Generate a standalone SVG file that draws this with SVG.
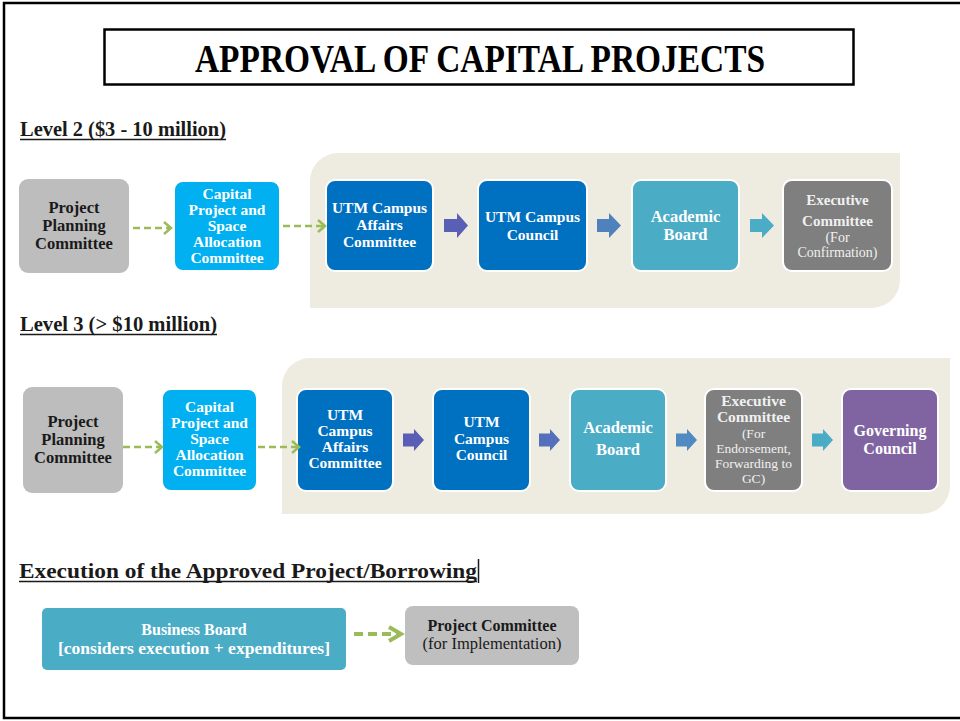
<svg xmlns="http://www.w3.org/2000/svg" width="960" height="721" viewBox="0 0 960 721">
<style>
text{font-family:"Liberation Serif","DejaVu Serif",serif;text-anchor:middle}
.b{font-weight:bold}
.w{fill:#ffffff}
.lw{fill:#f0f0f0}
.d{fill:#1a1a1a}
.h{font-weight:bold;fill:#1a1a1a;text-anchor:start}
.box{stroke:#ffffff;stroke-width:2}
.ul{stroke:#1a1a1a;stroke-width:1.5}
.dash{fill:none;stroke:#9bbb59;stroke-width:2.5;stroke-dasharray:7 4}
.head{fill:none;stroke:#9bbb59;stroke-width:2.5}
.panel{fill:#eeece1}
</style>
<rect width="960" height="721" fill="#ffffff"/>
<path d="M960,3 H4 V718 H960" fill="none" stroke="#000" stroke-width="2.5"/>

<g id="title">
<rect x="104.5" y="29.5" width="749" height="55" fill="#fff" stroke="#000" stroke-width="2.5"/>
<text x="480" y="72" class="b" font-size="40" textLength="570" lengthAdjust="spacingAndGlyphs" fill="#000">APPROVAL OF CAPITAL PROJECTS</text>
</g>

<g id="heading-level2">
<text x="20" y="136" class="h" font-size="20" textLength="206" lengthAdjust="spacingAndGlyphs">Level 2 ($3 - 10 million)</text>
<line x1="20" y1="139.5" x2="226" y2="139.5" class="ul"/>
</g>
<g id="heading-level3">
<text x="20" y="331" class="h" font-size="20" textLength="197" lengthAdjust="spacingAndGlyphs">Level 3 (&gt; $10 million)</text>
<line x1="20" y1="334.5" x2="217" y2="334.5" class="ul"/>
</g>
<g id="heading-execution">
<text x="19" y="578" class="h" font-size="21" textLength="458" lengthAdjust="spacingAndGlyphs">Execution of the Approved Project/Borrowing</text>
<line x1="19" y1="581.5" x2="477" y2="581.5" class="ul"/>
<line x1="478.5" y1="559" x2="478.5" y2="583" stroke="#1a1a1a" stroke-width="1.5"/>
</g>

<g id="panel-level2"><path class="panel" d="M310,308 V181 A28,28 0 0 1 338,153 H900 V280 A28,28 0 0 1 872,308 Z"/></g>
<g id="panel-level3"><path class="panel" d="M282,514 V386 A28,28 0 0 1 310,358 H950 V486 A28,28 0 0 1 922,514 Z"/></g>

<!-- Level 2 nodes -->
<g id="l2-project-planning">
<rect x="19" y="179" width="110" height="94" rx="9" fill="#bdbdbd"/>
<text class="b d" font-size="16.5"><tspan x="74" y="212.5">Project</tspan><tspan x="74" y="230.5">Planning</tspan><tspan x="74" y="248.5">Committee</tspan></text>
</g>
<g id="l2-capital-project">
<rect class="box" x="174" y="181" width="106" height="90" rx="9" fill="#00b0f0"/>
<text class="b w" font-size="15.5"><tspan x="227" y="199">Capital</tspan><tspan x="227" y="215">Project and</tspan><tspan x="227" y="231">Space</tspan><tspan x="227" y="247">Allocation</tspan><tspan x="227" y="263">Committee</tspan></text>
</g>
<g id="l2-utm-campus-affairs">
<rect class="box" x="326" y="180" width="107" height="91" rx="9" fill="#0070c0"/>
<text class="b w" font-size="15.5"><tspan x="379.5" y="213">UTM Campus</tspan><tspan x="379.5" y="230">Affairs</tspan><tspan x="379.5" y="247">Committee</tspan></text>
</g>
<g id="l2-utm-campus-council">
<rect class="box" x="478" y="180" width="109" height="91" rx="9" fill="#0070c0"/>
<text class="b w" font-size="15.5"><tspan x="532.5" y="222">UTM Campus</tspan><tspan x="532.5" y="239.5">Council</tspan></text>
</g>
<g id="l2-academic-board">
<rect class="box" x="632" y="180" width="107" height="91" rx="9" fill="#4bacc6"/>
<text class="b w" font-size="16.5"><tspan x="685.5" y="221.5">Academic</tspan><tspan x="685.5" y="239.5">Board</tspan></text>
</g>
<g id="l2-executive-committee">
<rect class="box" x="783" y="180" width="109" height="91" rx="9" fill="#7f7f7f"/>
<text class="lw" font-size="15"><tspan x="837.5" y="205" font-weight="bold">Executive</tspan><tspan x="837.5" y="226" font-weight="bold">Committee</tspan><tspan x="837.5" y="241.5" font-size="14">(For</tspan><tspan x="837.5" y="256.5" font-size="14">Confirmation)</tspan></text>
</g>

<!-- Level 3 nodes -->
<g id="l3-project-planning">
<rect x="23" y="387" width="100" height="106" rx="9" fill="#bdbdbd"/>
<text class="b d" font-size="16.5"><tspan x="73" y="427">Project</tspan><tspan x="73" y="445">Planning</tspan><tspan x="73" y="463">Committee</tspan></text>
</g>
<g id="l3-capital-project">
<rect class="box" x="162" y="389" width="95" height="102" rx="9" fill="#00b0f0"/>
<text class="b w" font-size="15.5"><tspan x="209.5" y="412">Capital</tspan><tspan x="209.5" y="428">Project and</tspan><tspan x="209.5" y="444">Space</tspan><tspan x="209.5" y="460">Allocation</tspan><tspan x="209.5" y="476">Committee</tspan></text>
</g>
<g id="l3-utm-campus-affairs">
<rect class="box" x="297" y="389" width="96" height="102" rx="9" fill="#0070c0"/>
<text class="b w" font-size="15.5"><tspan x="345" y="420">UTM</tspan><tspan x="345" y="436">Campus</tspan><tspan x="345" y="452">Affairs</tspan><tspan x="345" y="468">Committee</tspan></text>
</g>
<g id="l3-utm-campus-council">
<rect class="box" x="433" y="389" width="97" height="102" rx="9" fill="#0070c0"/>
<text class="b w" font-size="15.5"><tspan x="481.5" y="427">UTM</tspan><tspan x="481.5" y="443.5">Campus</tspan><tspan x="481.5" y="460">Council</tspan></text>
</g>
<g id="l3-academic-board">
<rect class="box" x="570" y="389" width="96" height="102" rx="9" fill="#4bacc6"/>
<text class="b w" font-size="16.5"><tspan x="618" y="433">Academic</tspan><tspan x="618" y="455">Board</tspan></text>
</g>
<g id="l3-executive-committee">
<rect class="box" x="705" y="389" width="97" height="102" rx="9" fill="#7f7f7f"/>
<text class="lw" font-size="15.5"><tspan x="753.5" y="406" font-weight="bold">Executive</tspan><tspan x="753.5" y="422" font-weight="bold">Committee</tspan><tspan x="753.5" y="438" font-size="13.5">(For</tspan><tspan x="753.5" y="453" font-size="13.5">Endorsement,</tspan><tspan x="753.5" y="468" font-size="13.5">Forwarding to</tspan><tspan x="753.5" y="483" font-size="13.5">GC)</tspan></text>
</g>
<g id="l3-governing-council">
<rect class="box" x="842" y="389" width="96" height="102" rx="9" fill="#8064a2"/>
<text class="b w" font-size="16"><tspan x="890" y="436">Governing</tspan><tspan x="890" y="454">Council</tspan></text>
</g>

<!-- Execution nodes -->
<g id="business-board">
<rect x="42" y="608" width="304" height="62" rx="5" fill="#4bacc6"/>
<text class="b w" font-size="16"><tspan x="194" y="635">Business Board</tspan><tspan x="194" y="654" textLength="272" lengthAdjust="spacingAndGlyphs">[considers execution + expenditures]</tspan></text>
</g>
<g id="project-committee">
<rect x="405" y="606" width="174" height="59" rx="8" fill="#bfbfbf"/>
<text class="d" font-size="16"><tspan x="492" y="631" font-weight="bold">Project Committee</tspan><tspan x="492" y="649" font-size="16.5">(for Implementation)</tspan></text>
</g>

<g id="connectors">
<!-- Level 2 dashed -->
<path class="dash" d="M133,228 H170"/><path class="head" d="M164,222 L171,228 L164,234"/>
<path class="dash" d="M283,226 H324"/><path class="head" d="M318,220 L325,226 L318,232"/>
<!-- Level 2 block arrows -->
<path fill="#5a5fb6" d="M444,219 H457 V213 L468,225.5 L457,238 V232 H444 Z"/>
<path fill="#4f81bd" d="M597,219 H609 V213 L621,225.5 L609,238 V232 H597 Z"/>
<path fill="#4bacc6" d="M750,219 H762 V213 L774,225.5 L762,238 V232 H750 Z"/>
<!-- Level 3 dashed -->
<path class="dash" d="M123,447 H161"/><path class="head" d="M155,441 L162,447 L155,453"/>
<path class="dash" d="M258,447 H298"/><path class="head" d="M292,441 L299,447 L292,453"/>
<!-- Level 3 block arrows -->
<path fill="#5a5fb6" d="M403,433.5 H414 V429 L424,440 L414,451 V446.5 H403 Z"/>
<path fill="#5470bd" d="M539,433.5 H550 V429 L560,440 L550,451 V446.5 H539 Z"/>
<path fill="#4f8bc2" d="M676,433.5 H687 V429 L697,440 L687,451 V446.5 H676 Z"/>
<path fill="#4bacc6" d="M812,433.5 H823 V429 L833,440 L823,451 V446.5 H812 Z"/>
<!-- Execution dashed -->
<path d="M354,634 H399" fill="none" stroke="#9bbb59" stroke-width="4" stroke-dasharray="9 5"/>
<path d="M389,627 L401,634 L389,641" fill="none" stroke="#9bbb59" stroke-width="4"/>
</g>
</svg>
